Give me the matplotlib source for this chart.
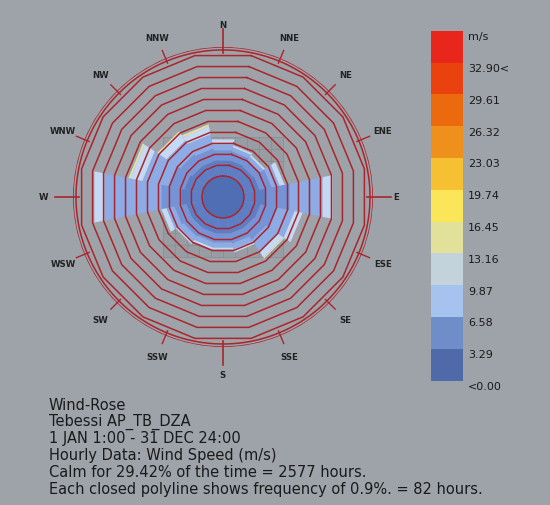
import numpy as np
import matplotlib
matplotlib.use("Agg")
import matplotlib.pyplot as plt

# directions, clockwise from north
directions = ["N", "NNE", "NE", "ENE", "E", "ESE", "SE", "SSE",
              "S", "SSW", "SW", "WSW", "W", "WNW", "NW", "NNW"]

# frequency (%) per speed bin and direction
bin1 = [1.31, 1.31, 1.23, 1.31, 1.80, 1.39, 1.31, 1.31, 1.31, 1.31, 1.31, 1.31, 1.72, 1.48, 1.31, 1.31]
bin2 = [0.82, 0.74, 0.66, 0.98, 1.97, 1.31, 1.15, 0.82, 0.74, 0.74, 0.82, 0.98, 1.64, 1.31, 1.15, 0.98]
bin3 = [0.49, 0.33, 0.33, 0.66, 2.70, 1.48, 1.15, 0.49, 0.41, 0.41, 0.49, 0.66, 4.67, 2.13, 1.31, 1.15]
bin4 = [0.41, 0.16, 0.16, 0.41, 0.82, 0.66, 0.57, 0.25, 0.16, 0.16, 0.25, 0.41, 0.82, 0.98, 0.74, 0.66]
bin5 = [0.00, 0.00, 0.00, 0.00, 0.00, 0.00, 0.08, 0.00, 0.00, 0.00, 0.00, 0.00, 0.00, 0.16, 0.16, 0.16]
bin_colors = ["#5d7ec5", "#7594d8", "#8dabe5", "#c6d9f4", "#e4e3a4"]

ring_step = 0.9      # each closed polyline = 0.9 %
n_rings = 11

legend_labels = ["m/s", "32.90<", "29.61", "26.32", "23.03", "19.74", "16.45",
                 "13.16", "9.87", "6.58", "3.29", "<0.00"]
legend_colors = ["#e8261c", "#e9420f", "#eb6a0e", "#ef8f1c", "#f5c132", "#fbe65a",
                 "#e2e19a", "#c3d3dc", "#a6c2ee", "#6f8ec9", "#4e6aa9"]

info_lines = ["Wind-Rose",
              "Tebessi AP_TB_DZA",
              "1 JAN 1:00 - 31 DEC 24:00",
              "Hourly Data: Wind Speed (m/s)",
              "Calm for 29.42% of the time = 2577 hours.",
              "Each closed polyline shows frequency of 0.9%. = 82 hours."]

bg = "#9ea3aa"
red = "#aa252c"
calm_r = 1.69
r_max = 12.06

fig = plt.figure(figsize=(5.5, 5.06), dpi=100)
fig.patch.set_facecolor(bg)
box = [0.1327, 0.3123, 0.5455, 0.5929]

# faint square grid behind the rose
axg = fig.add_axes(box)
axg.set_xlim(-r_max, r_max)
axg.set_ylim(-r_max, r_max)
axg.set_axis_off()
g = np.linspace(-4.8, 4.8, 11)
axg.fill_between([-4.8, 4.8], -4.8, 4.8, color="#989da4", lw=0)
for v in g:
    axg.plot([v, v], [-4.8, 4.8], color="#8a8f96", lw=0.6)
    axg.plot([-4.8, 4.8], [v, v], color="#8a8f96", lw=0.6)

ax = fig.add_axes(box, projection="polar")
ax.set_theta_zero_location("N")
ax.set_theta_direction(-1)
ax.set_rlim(0, r_max)
ax.set_axis_off()

n = len(directions)
theta = np.arange(n) * 2 * np.pi / n
half = np.pi / n

# stacked wedges
bottom = np.full(n, calm_r)
for vals, col in zip([bin1, bin2, bin3, bin4, bin5], bin_colors):
    vals = np.array(vals)
    for t, b, v in zip(theta, bottom, vals):
        if v <= 0:
            continue
        ax.fill([t - half, t + half, t + half, t - half],
                [b, b, b + v, b + v], color=col, lw=0, zorder=2)
    bottom = bottom + vals

# calm circle
tc = np.linspace(0, 2 * np.pi, 361)
ax.fill(tc, np.full_like(tc, calm_r), color="#4f6eb3", lw=0, zorder=3)
ax.plot(tc, np.full_like(tc, calm_r), color=red, lw=1.1, zorder=4)

# frequency polylines
tv = np.append(theta + half, theta[0] + half)
for k in range(1, n_rings + 1):
    ax.plot(tv, np.full_like(tv, calm_r + k * ring_step), color=red, lw=1.1, zorder=4)

# outer circles
for rr in [11.82, 12.06]:
    ax.plot(tc, np.full_like(tc, rr), color=red, lw=1.1, zorder=4)

# direction ticks and labels
label_r = {"W": 14.4, "S": 14.3}
for i, (t, name) in enumerate(zip(theta, directions)):
    if i % 4 == 0:
        ax.plot([t, t], [11.6, 13.5], color=red, lw=1.2, clip_on=False, zorder=4)
    else:
        ax.plot([t, t], [11.65, 12.75], color=red, lw=1.0, clip_on=False, zorder=4)
    ax.text(t, label_r.get(name, 13.9), name, ha="center", va="center", fontsize=6.2,
            fontweight="bold", color="#222222", clip_on=False)

# legend
axl = fig.add_axes([430.7 / 550, (506 - 381.7) / 506, 32 / 550, 350 / 506])
nb = len(legend_colors)
for i, col in enumerate(legend_colors):
    axl.bar(0, 1, bottom=nb - 1 - i, width=1, color=col, lw=0)
axl.set_xlim(-0.5, 0.5)
axl.set_ylim(0, nb)
axl.set_axis_off()
for j, lab in enumerate(legend_labels):
    axl.text(1.17, nb - j - 0.17, lab, transform=axl.get_yaxis_transform(),
             ha="left", va="center", fontsize=8, color="#1a1a1a", clip_on=False)

# info text
y0 = 405
for j, line in enumerate(info_lines):
    fig.text(49 / 550, 1 - (y0 + j * 16.9) / 506, line, ha="left", va="center",
             fontsize=10.5, color="#1a1a1a")

fig.savefig("out.png", dpi=100, facecolor=bg)
